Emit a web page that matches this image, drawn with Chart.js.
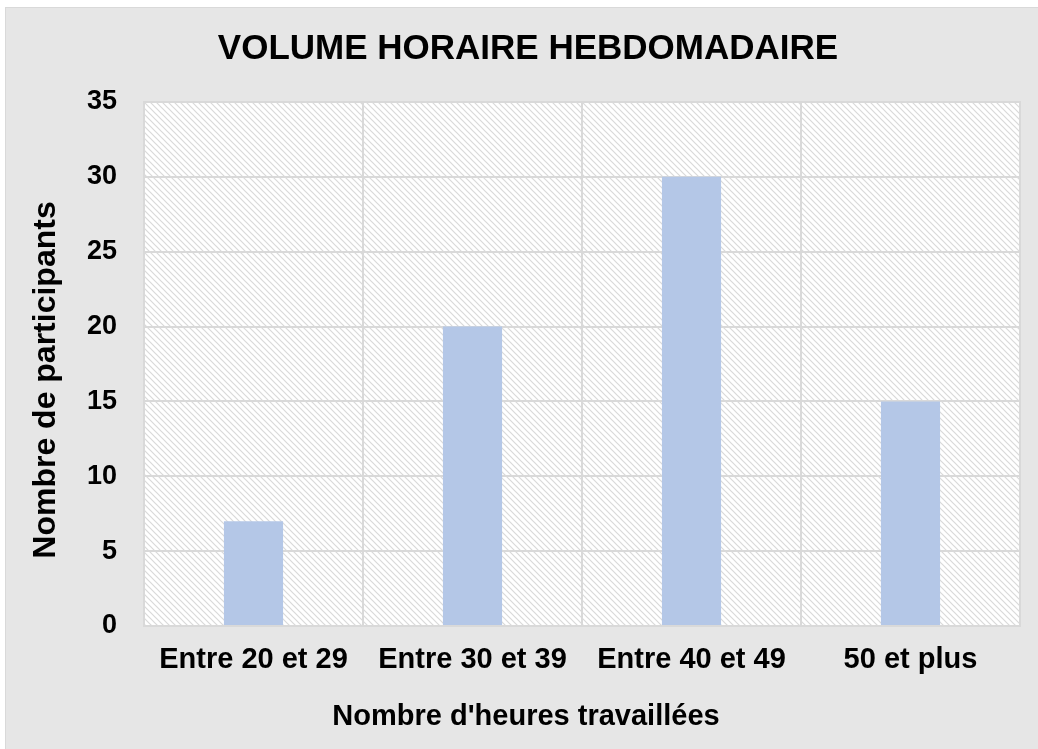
<!DOCTYPE html>
<html>
<head>
<meta charset="utf-8">
<script src="https://cdn.jsdelivr.net/npm/chart.js@4/dist/chart.umd.min.js"></script>
<style>
  html, body { margin: 0; padding: 0; background: #ffffff; }
  #wrap { width: 1038px; height: 749px; position: relative; }
</style>
</head>
<body>
<div id="wrap"><canvas id="c" width="1038" height="749"></canvas></div>
<script>
const categories = ['Entre 20 et 29', 'Entre 30 et 39', 'Entre 40 et 49', '50 et plus'];
const participants = [7, 20, 30, 15];
const yMax = 35;
const yStep = 5;
const chartTitle = 'VOLUME HORAIRE HEBDOMADAIRE';
const xTitle = "Nombre d'heures travaillées";
const yTitle = 'Nombre de participants';

const FONT = "'Liberation Sans', Arial, sans-serif";
const GRID = '#d9d9d9';

function makeHatch() {
  const s = 6;
  const c = document.createElement('canvas');
  c.width = s; c.height = s;
  const g = c.getContext('2d');
  g.fillStyle = '#ffffff';
  g.fillRect(0, 0, s, s);
  g.strokeStyle = '#d9d9d9';
  g.lineWidth = 1.2;
  g.beginPath();
  g.moveTo(-1, -1); g.lineTo(s + 1, s + 1);
  g.moveTo(-1, s - 1); g.lineTo(1, s + 1);
  g.moveTo(s - 1, -1); g.lineTo(s + 1, 1);
  g.stroke();
  return g.createPattern(c, 'repeat');
}

const bgPlugin = {
  id: 'bgPlugin',
  beforeDraw(chart) {
    const ctx = chart.ctx;
    const ca = chart.chartArea;
    ctx.save();
    ctx.fillStyle = '#ffffff';
    ctx.fillRect(0, 0, chart.width, chart.height);
    ctx.fillStyle = '#e6e6e6';
    ctx.fillRect(5, 7, chart.width - 5, chart.height - 7);
    ctx.strokeStyle = '#d9d9d9';
    ctx.lineWidth = 1;
    ctx.strokeRect(5.5, 7.5, chart.width - 5, chart.height - 7);
    ctx.fillStyle = makeHatch();
    ctx.fillRect(ca.left, ca.top, ca.right - ca.left, ca.bottom - ca.top);
    ctx.restore();
  }
};

const framePlugin = {
  id: 'frame',
  afterDatasetsDraw(chart) {
    const ca = chart.chartArea;
    const ctx = chart.ctx;
    ctx.save();
    ctx.strokeStyle = GRID;
    ctx.lineWidth = 2;
    ctx.strokeRect(ca.left, ca.top, ca.right - ca.left, ca.bottom - ca.top);
    ctx.restore();
  }
};

const axisTitlePlugin = {
  id: 'axisTitles',
  afterDraw(chart) {
    const ctx = chart.ctx;
    ctx.save();
    ctx.fillStyle = '#000000';
    ctx.textAlign = 'center';
    ctx.textBaseline = 'middle';
    ctx.font = "bold 29px " + FONT;
    ctx.fillText(xTitle, 526, 717);
    ctx.translate(46, 380);
    ctx.rotate(-Math.PI / 2);
    ctx.font = "bold 32px " + FONT;
    ctx.fillText(yTitle, 0, 0);
    ctx.restore();
  }
};

new Chart(document.getElementById('c'), {
  type: 'bar',
  data: {
    labels: categories,
    datasets: [{
      data: participants,
      backgroundColor: '#b4c7e7',
      borderWidth: 0,
      categoryPercentage: 1,
      barPercentage: 0.27
    }]
  },
  options: {
    responsive: false,
    animation: false,
    layout: { padding: { left: 36, right: 18, top: 0, bottom: 0 } },
    plugins: {
      legend: { display: false },
      tooltip: { enabled: false },
      title: {
        display: true,
        text: chartTitle,
        color: '#000000',
        font: { family: FONT, size: 35, weight: 'bold' },
        padding: { top: 28, bottom: 32 }
      }
    },
    scales: {
      x: {
        grid: { color: GRID, lineWidth: 2, drawTicks: false, offset: true },
        border: { display: true, color: GRID, width: 2 },
        ticks: {
          color: '#000000',
          font: { family: FONT, size: 29, weight: 'bold' },
          padding: 17,
          maxRotation: 0,
          autoSkip: false
        },
        afterFit(scale) { scale.height = 123; }
      },
      y: {
        min: 0,
        max: yMax,
        grid: { color: GRID, lineWidth: 2, drawTicks: false },
        border: { display: true, color: GRID, width: 2 },
        ticks: {
          stepSize: yStep,
          color: '#000000',
          font: { family: FONT, size: 27, weight: 'bold' },
          padding: 27
        },
        afterFit(scale) { scale.width = 108; }
      }
    }
  },
  plugins: [bgPlugin, framePlugin, axisTitlePlugin]
});
</script>
</body>
</html>
